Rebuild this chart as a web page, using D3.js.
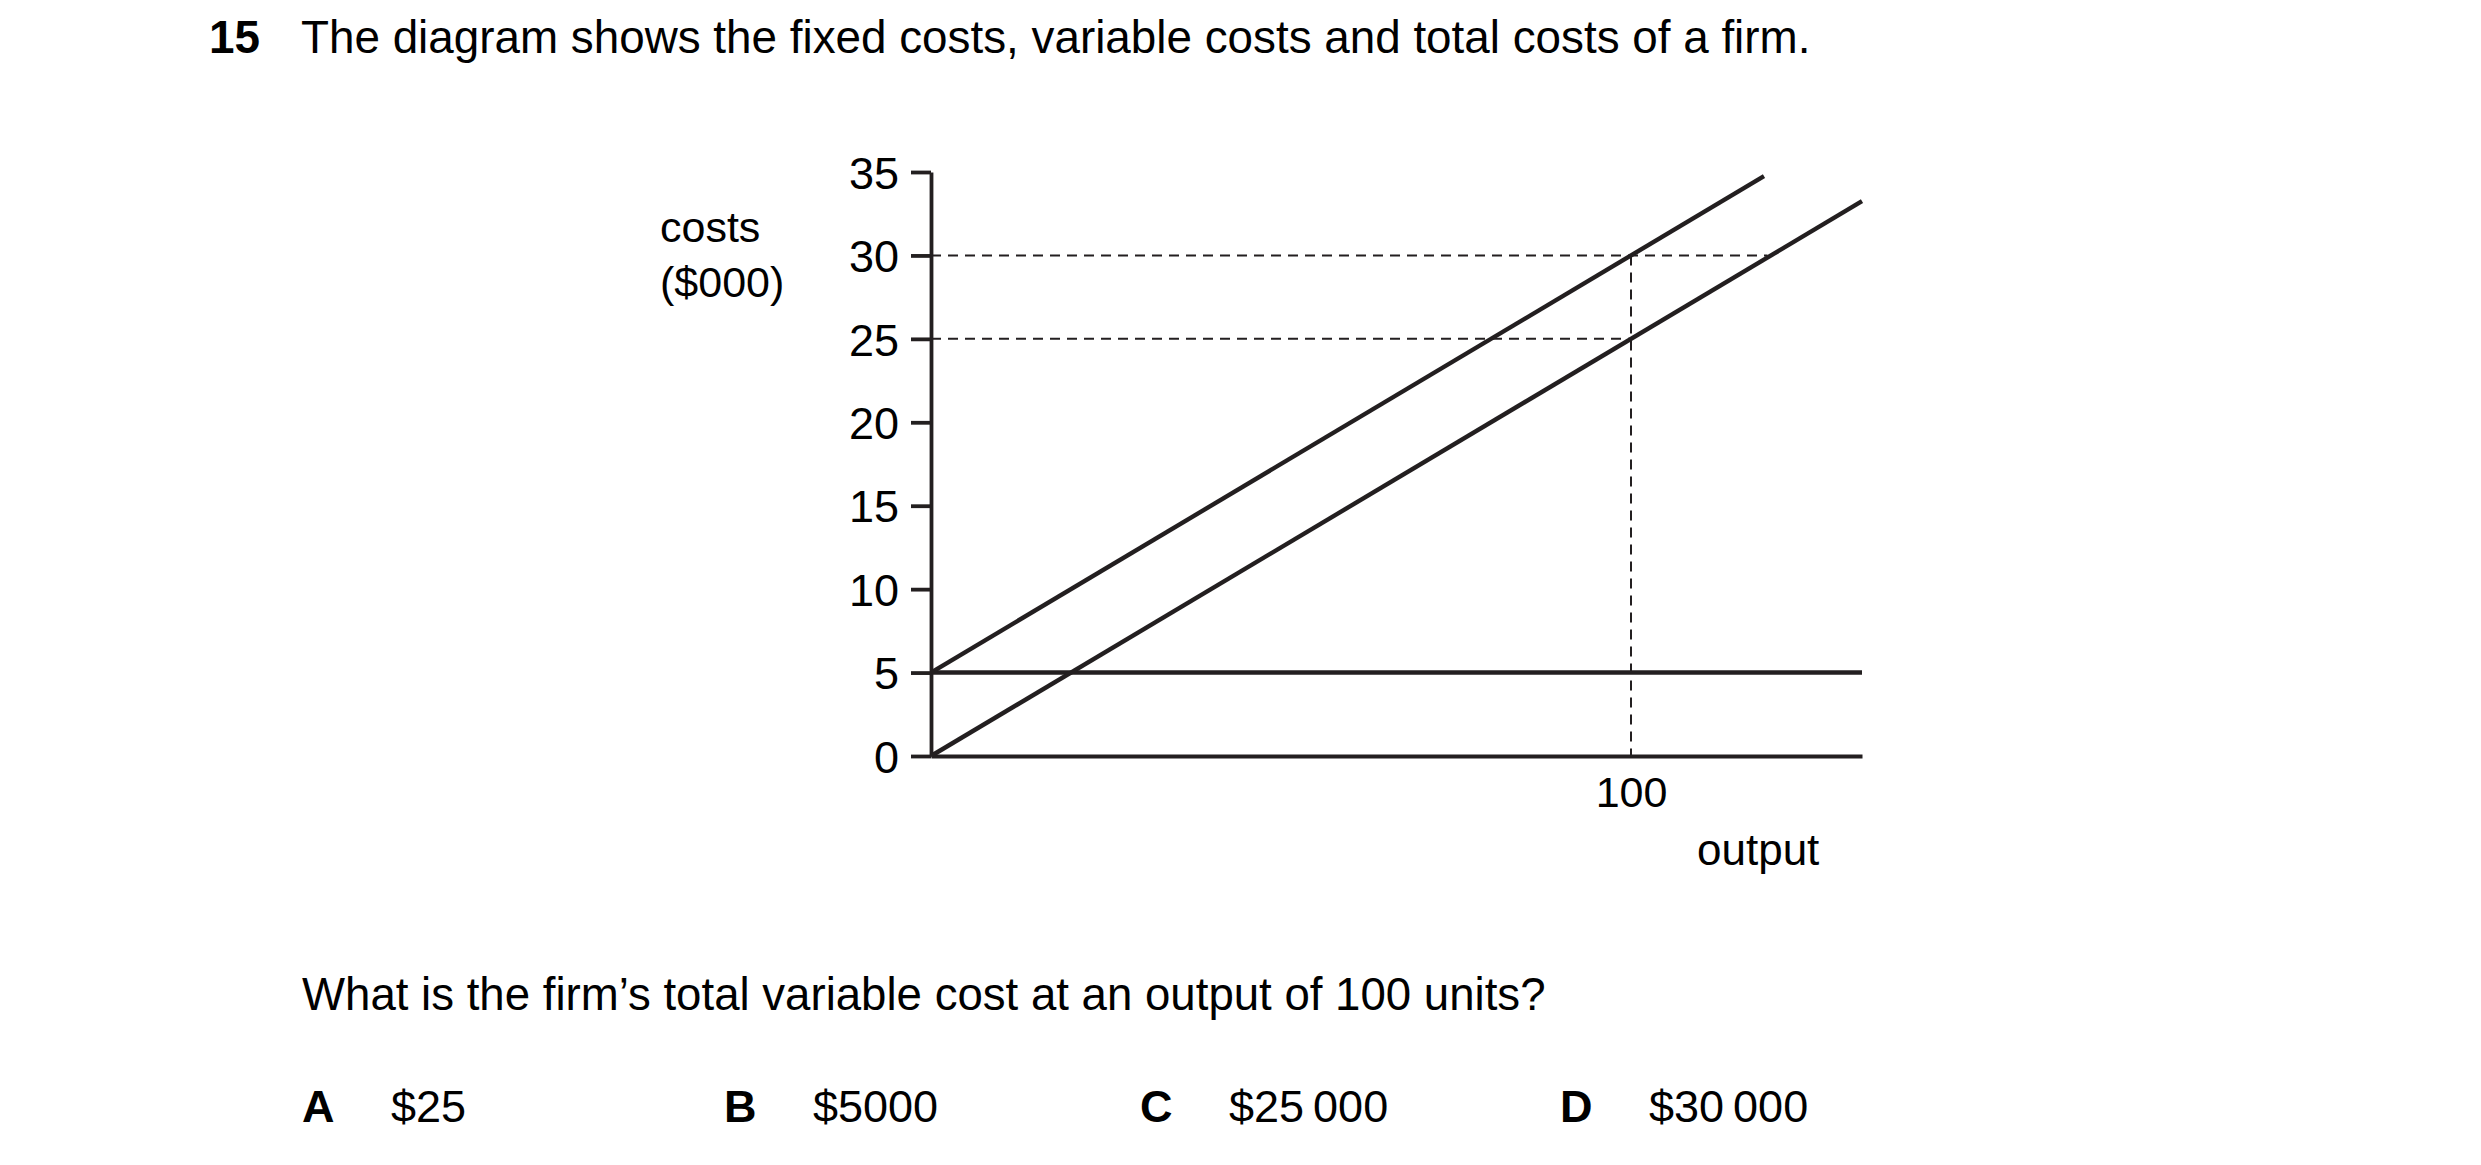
<!DOCTYPE html>
<html>
<head>
<meta charset="utf-8">
<script src="https://cdn.jsdelivr.net/npm/d3@7"></script>
<style>
  body { margin: 0; background: #fff; }
  svg { display: block; font-family: "Liberation Sans", Arial, sans-serif; }
</style>
</head>
<body>
<div id="chart"></div>
<script>
/*
 * Cost curves of a firm (fixed, variable, total)
 */

// question text
var questionNumber = "15";
var questionTitle = "The diagram shows the fixed costs, variable costs and total costs of a firm.";
var questionText = "What is the firm\u2019s total variable cost at an output of 100 units?";
var answerLetters = ["A", "B", "C", "D"];
var answerValues = ["$25", "$5000", "$25\u2009000", "$30\u2009000"];

// axes
var yTicks = [0, 5, 10, 15, 20, 25, 30, 35];
var xTicks = [100];
var yLabel = ["costs", "($000)"];
var xLabel = "output";

// series: [output, costs ($000)]
var fixedCost = [[0, 5], [133, 5]];
var variableCost = [[0, 0], [133, 33.25]];
var totalCost = [[0, 5], [119, 34.75]];

// dashed read-off lines
var guides = [
  [[0, 30], [119.5, 30]],
  [[0, 25], [100, 25]],
  [[100, 30], [100, 0]]
];

var INK = "#231f20";

var W = 2481, H = 1165;
var svg = d3.select("#chart").append("svg").attr("width", W).attr("height", H);

// scales
var x = d3.scaleLinear().domain([0, 133]).range([931, 1862]);
var y = d3.scaleLinear().domain([0, 35]).range([756, 172]);

var line = d3.line().x(function(d){ return x(d[0]); }).y(function(d){ return y(d[1]); });

// title
var title = svg.append("text").attr("y", 53).style("font-size", "45.8px").attr("fill", "#000");
title.append("tspan").attr("x", 209).style("font-weight", "bold").text(questionNumber);
title.append("tspan").attr("x", 301).text(questionTitle);

// dashed guides (under the curves)
svg.selectAll("path.guide").data(guides).enter().append("path")
  .attr("class", "guide")
  .attr("d", line)
  .attr("fill", "none")
  .attr("stroke", INK)
  .attr("stroke-width", 2)
  .attr("stroke-dasharray", "10,7");

// y axis
var yAxis = d3.axisLeft(y).tickValues(yTicks).tickSize(20).tickSizeOuter(0).tickPadding(12);
var gy = svg.append("g").attr("transform", "translate(" + x(0) + ",0)").call(yAxis);
gy.select(".domain").attr("stroke", INK).attr("stroke-width", 3.8);
gy.selectAll(".tick line").attr("stroke", INK).attr("stroke-width", 3.8);
gy.selectAll(".tick text").attr("fill", "#000").attr("dy", "0.36em")
  .style("font-size", "45px").style("font-family", "'Liberation Sans', Arial, sans-serif");

// x axis (only a label at 100, no tick mark)
var xAxis = d3.axisBottom(x).tickValues(xTicks).tickSize(0).tickSizeOuter(0).tickPadding(20);
var gx = svg.append("g").attr("transform", "translate(0," + y(0) + ")").call(xAxis);
gx.select(".domain").attr("stroke", INK).attr("stroke-width", 4.2);
gx.selectAll(".tick text").attr("fill", "#000")
  .style("font-size", "43px").style("font-family", "'Liberation Sans', Arial, sans-serif");

// cost lines
svg.selectAll("path.cost").data([fixedCost, variableCost, totalCost]).enter().append("path")
  .attr("class", "cost")
  .attr("d", line)
  .attr("fill", "none")
  .attr("stroke", INK)
  .attr("stroke-width", 4.4);

// axis labels
svg.selectAll("text.ylab").data(yLabel).enter().append("text")
  .attr("class", "ylab")
  .attr("x", 660)
  .attr("y", function(d, i){ return 242 + i * 55; })
  .style("font-size", "43px")
  .text(function(d){ return d; });

svg.append("text").attr("x", 1697).attr("y", 865).style("font-size", "44px").text(xLabel);

// question and answers
svg.append("text").attr("x", 302).attr("y", 1010).style("font-size", "45.6px").text(questionText);

var answerX = [302, 724, 1140, 1560];
var opts = svg.selectAll("g.answer").data(answerLetters).enter().append("g")
  .attr("class", "answer")
  .attr("transform", function(d, i){ return "translate(" + answerX[i] + ",1122)"; });
opts.append("text").style("font-size", "45px").style("font-weight", "bold").text(function(d){ return d; });
opts.append("text").attr("x", 89).style("font-size", "45px").text(function(d, i){ return answerValues[i]; });
</script>
</body>
</html>
